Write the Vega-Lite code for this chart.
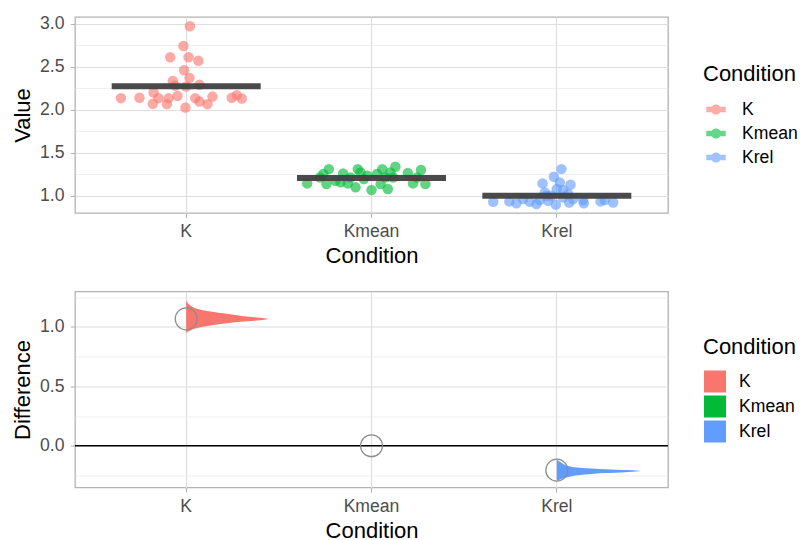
{
  "$schema": "https://vega.github.io/schema/vega-lite/v6.json",
  "padding": {"left": 10, "top": 14, "right": 0, "bottom": 0},
  "config": {
    "font": "Liberation Sans",
    "view": {"stroke": "#b3b3b3", "strokeWidth": 1.3},
    "axis": {
      "labelFont": "Liberation Sans", "labelFontSize": 17.6, "labelColor": "#4d4d4d",
      "titleFont": "Liberation Sans", "titleFontSize": 22, "titleColor": "#000000", "titleFontWeight": "normal",
      "domain": false, "tickColor": "#b3b3b3", "tickSize": 4.5, "tickWidth": 1.1,
      "gridColor": "#dedede", "gridWidth": 1.2
    },
    "axisX": {"labelPadding": 5, "titlePadding": 5.5, "labelBaseline": "top"},
    "axisY": {"labelPadding": 6.5, "titlePadding": 5.5},
    "legend": {
      "titleFont": "Liberation Sans", "titleFontSize": 22, "titleFontWeight": "normal", "titleColor": "#000000",
      "labelFont": "Liberation Sans", "labelFontSize": 17.6, "labelColor": "#000000",
      "padding": 0, "offset": 35,
      "layout": {"right": {"anchor": "middle"}}
    }
  },
  "datasets": {
    "pts": [
      {"cond": "K", "value": 2.97, "jit": 0.02},
      {"cond": "K", "value": 2.74, "jit": -0.015},
      {"cond": "K", "value": 2.61, "jit": -0.086},
      {"cond": "K", "value": 2.61, "jit": 0.013},
      {"cond": "K", "value": 2.57, "jit": 0.066},
      {"cond": "K", "value": 2.46, "jit": -0.011},
      {"cond": "K", "value": 2.37, "jit": 0.018},
      {"cond": "K", "value": 2.335, "jit": -0.072},
      {"cond": "K", "value": 2.29, "jit": 0.072},
      {"cond": "K", "value": 2.27, "jit": 0.0},
      {"cond": "K", "value": 2.28, "jit": -0.06},
      {"cond": "K", "value": 2.2, "jit": -0.176},
      {"cond": "K", "value": 2.135, "jit": -0.352},
      {"cond": "K", "value": 2.14, "jit": -0.252},
      {"cond": "K", "value": 2.135, "jit": -0.149},
      {"cond": "K", "value": 2.16, "jit": -0.047},
      {"cond": "K", "value": 2.135, "jit": 0.049},
      {"cond": "K", "value": 2.153, "jit": 0.142},
      {"cond": "K", "value": 2.14, "jit": 0.246},
      {"cond": "K", "value": 2.17, "jit": 0.273},
      {"cond": "K", "value": 2.13, "jit": 0.3},
      {"cond": "K", "value": 2.07, "jit": -0.18},
      {"cond": "K", "value": 2.065, "jit": -0.104},
      {"cond": "K", "value": 2.135, "jit": -0.095},
      {"cond": "K", "value": 2.095, "jit": 0.072},
      {"cond": "K", "value": 2.065, "jit": 0.115},
      {"cond": "K", "value": 2.025, "jit": -0.004},
      {"cond": "Kmean", "value": 1.144, "jit": -0.347},
      {"cond": "Kmean", "value": 1.253, "jit": -0.26},
      {"cond": "Kmean", "value": 1.31, "jit": -0.23},
      {"cond": "Kmean", "value": 1.136, "jit": -0.243},
      {"cond": "Kmean", "value": 1.26, "jit": -0.153},
      {"cond": "Kmean", "value": 1.156, "jit": -0.167},
      {"cond": "Kmean", "value": 1.144, "jit": -0.128},
      {"cond": "Kmean", "value": 1.098, "jit": -0.086},
      {"cond": "Kmean", "value": 1.31, "jit": -0.074},
      {"cond": "Kmean", "value": 1.27, "jit": -0.059},
      {"cond": "Kmean", "value": 1.233, "jit": -0.023},
      {"cond": "Kmean", "value": 1.067, "jit": 0.0},
      {"cond": "Kmean", "value": 1.253, "jit": 0.03},
      {"cond": "Kmean", "value": 1.31, "jit": 0.058},
      {"cond": "Kmean", "value": 1.136, "jit": 0.049},
      {"cond": "Kmean", "value": 1.078, "jit": 0.088},
      {"cond": "Kmean", "value": 1.27, "jit": 0.102},
      {"cond": "Kmean", "value": 1.337, "jit": 0.129},
      {"cond": "Kmean", "value": 1.213, "jit": 0.117},
      {"cond": "Kmean", "value": 1.265, "jit": 0.196},
      {"cond": "Kmean", "value": 1.144, "jit": 0.224},
      {"cond": "Kmean", "value": 1.3, "jit": 0.267},
      {"cond": "Kmean", "value": 1.136, "jit": 0.291},
      {"cond": "Kmean", "value": 1.213, "jit": 0.246},
      {"cond": "Kmean", "value": 1.213, "jit": -0.113},
      {"cond": "Kmean", "value": 1.175, "jit": -0.194},
      {"cond": "Kmean", "value": 1.213, "jit": -0.278},
      {"cond": "Kmean", "value": 1.194, "jit": -0.041},
      {"cond": "Kmean", "value": 1.213, "jit": 0.075},
      {"cond": "Krel", "value": 1.31, "jit": 0.025},
      {"cond": "Krel", "value": 1.222, "jit": -0.016},
      {"cond": "Krel", "value": 1.144, "jit": -0.077},
      {"cond": "Krel", "value": 1.156, "jit": 0.016},
      {"cond": "Krel", "value": 1.129, "jit": 0.074},
      {"cond": "Krel", "value": 1.078, "jit": 0.0},
      {"cond": "Krel", "value": 1.067, "jit": 0.034},
      {"cond": "Krel", "value": 1.04, "jit": -0.065},
      {"cond": "Krel", "value": 1.021, "jit": 0.061},
      {"cond": "Krel", "value": 0.93, "jit": -0.343},
      {"cond": "Krel", "value": 0.935, "jit": -0.256},
      {"cond": "Krel", "value": 0.912, "jit": -0.218},
      {"cond": "Krel", "value": 0.963, "jit": -0.182},
      {"cond": "Krel", "value": 0.93, "jit": -0.146},
      {"cond": "Krel", "value": 0.905, "jit": -0.11},
      {"cond": "Krel", "value": 0.951, "jit": -0.092},
      {"cond": "Krel", "value": 0.943, "jit": -0.047},
      {"cond": "Krel", "value": 0.897, "jit": -0.005},
      {"cond": "Krel", "value": 1.0, "jit": -0.029},
      {"cond": "Krel", "value": 0.98, "jit": 0.034},
      {"cond": "Krel", "value": 0.923, "jit": 0.067},
      {"cond": "Krel", "value": 0.963, "jit": 0.088},
      {"cond": "Krel", "value": 0.912, "jit": 0.146},
      {"cond": "Krel", "value": 0.951, "jit": 0.142},
      {"cond": "Krel", "value": 0.935, "jit": 0.236},
      {"cond": "Krel", "value": 0.951, "jit": 0.259},
      {"cond": "Krel", "value": 0.923, "jit": 0.304},
      {"cond": "Krel", "value": 1.0, "jit": -0.056}
    ],
    "means": [
      {"cond": "K", "mean": 2.274},
      {"cond": "Kmean", "mean": 1.207},
      {"cond": "Krel", "mean": 1.0}
    ],
    "diffs": [
      {"cond": "K", "diff": 1.067},
      {"cond": "Kmean", "diff": 0.0},
      {"cond": "Krel", "diff": -0.205}
    ],
    "dens": [
      {"cond": "K", "i": 0, "value": 1.222, "w": 0.0},
      {"cond": "K", "i": 1, "value": 1.2, "w": 0.008},
      {"cond": "K", "i": 2, "value": 1.179, "w": 0.022},
      {"cond": "K", "i": 3, "value": 1.163, "w": 0.04},
      {"cond": "K", "i": 4, "value": 1.151, "w": 0.058},
      {"cond": "K", "i": 5, "value": 1.139, "w": 0.09},
      {"cond": "K", "i": 6, "value": 1.129, "w": 0.13},
      {"cond": "K", "i": 7, "value": 1.118, "w": 0.175},
      {"cond": "K", "i": 8, "value": 1.109, "w": 0.22},
      {"cond": "K", "i": 9, "value": 1.099, "w": 0.265},
      {"cond": "K", "i": 10, "value": 1.089, "w": 0.31},
      {"cond": "K", "i": 11, "value": 1.082, "w": 0.355},
      {"cond": "K", "i": 12, "value": 1.076, "w": 0.4},
      {"cond": "K", "i": 13, "value": 1.07, "w": 0.43},
      {"cond": "K", "i": 14, "value": 1.066, "w": 0.445},
      {"cond": "K", "i": 15, "value": 1.061, "w": 0.43},
      {"cond": "K", "i": 16, "value": 1.056, "w": 0.4},
      {"cond": "K", "i": 17, "value": 1.05, "w": 0.355},
      {"cond": "K", "i": 18, "value": 1.045, "w": 0.31},
      {"cond": "K", "i": 19, "value": 1.038, "w": 0.265},
      {"cond": "K", "i": 20, "value": 1.03, "w": 0.22},
      {"cond": "K", "i": 21, "value": 1.021, "w": 0.175},
      {"cond": "K", "i": 22, "value": 1.011, "w": 0.13},
      {"cond": "K", "i": 23, "value": 1.001, "w": 0.09},
      {"cond": "K", "i": 24, "value": 0.99, "w": 0.058},
      {"cond": "K", "i": 25, "value": 0.981, "w": 0.04},
      {"cond": "K", "i": 26, "value": 0.969, "w": 0.022},
      {"cond": "K", "i": 27, "value": 0.958, "w": 0.008},
      {"cond": "K", "i": 28, "value": 0.946, "w": 0.0},
      {"cond": "Krel", "i": 0, "value": -0.118, "w": 0.0},
      {"cond": "Krel", "i": 1, "value": -0.13, "w": 0.012},
      {"cond": "Krel", "i": 2, "value": -0.14, "w": 0.023},
      {"cond": "Krel", "i": 3, "value": -0.153, "w": 0.035},
      {"cond": "Krel", "i": 4, "value": -0.167, "w": 0.05},
      {"cond": "Krel", "i": 5, "value": -0.181, "w": 0.09},
      {"cond": "Krel", "i": 6, "value": -0.188, "w": 0.14},
      {"cond": "Krel", "i": 7, "value": -0.196, "w": 0.23},
      {"cond": "Krel", "i": 8, "value": -0.202, "w": 0.32},
      {"cond": "Krel", "i": 9, "value": -0.207, "w": 0.41},
      {"cond": "Krel", "i": 10, "value": -0.212, "w": 0.455},
      {"cond": "Krel", "i": 11, "value": -0.218, "w": 0.41},
      {"cond": "Krel", "i": 12, "value": -0.226, "w": 0.32},
      {"cond": "Krel", "i": 13, "value": -0.232, "w": 0.23},
      {"cond": "Krel", "i": 14, "value": -0.243, "w": 0.14},
      {"cond": "Krel", "i": 15, "value": -0.25, "w": 0.1},
      {"cond": "Krel", "i": 16, "value": -0.26, "w": 0.068},
      {"cond": "Krel", "i": 17, "value": -0.268, "w": 0.045},
      {"cond": "Krel", "i": 18, "value": -0.275, "w": 0.032},
      {"cond": "Krel", "i": 19, "value": -0.285, "w": 0.015},
      {"cond": "Krel", "i": 20, "value": -0.294, "w": 0.0}
    ]
  },
  "vconcat": [
    {
      "width": 593,
      "height": 196,
      "layer": [
        {
          "data": {"name": "pts"},
          "mark": {"type": "circle", "size": 110, "opacity": 0.62},
          "encoding": {
            "x": {"field": "cond", "type": "nominal",
              "scale": {"type": "band", "paddingInner": 0, "paddingOuter": 0.1, "domain": ["K", "Kmean", "Krel"]},
              "axis": {"title": "Condition", "labelAngle": 0, "grid": true, "bandPosition": 0.5}},
            "xOffset": {"field": "jit", "type": "quantitative", "scale": {"domain": [-0.5, 0.5]}},
            "y": {"field": "value", "type": "quantitative",
              "scale": {"domain": [0.8, 3.078], "nice": false, "zero": false},
              "axis": {"title": "Value", "values": [1, 1.5, 2, 2.5, 3], "format": ".1f", "orient": "left", "grid": true}},
            "color": {"field": "cond", "type": "nominal",
              "scale": {"domain": ["K", "Kmean", "Krel"], "range": ["#F8766D", "#00BA38", "#619CFF"]},
              "legend": {"title": "Condition", "symbolType": "M-1,-0.27H1V0.27H-1Z M0.52,0A0.52,0.52,0,1,1,-0.52,0A0.52,0.52,0,1,1,0.52,0Z", "symbolSize": 380, "symbolOpacity": 0.6, "symbolStrokeWidth": 0, "symbolOffset": 3, "labelOffset": 16, "titlePadding": 13.5, "rowPadding": 5}}
          }
        },
        {
          "data": {"name": "means"},
          "mark": {"type": "tick", "size": 149, "thickness": 6, "color": "#404040", "opacity": 0.95},
          "encoding": {
            "x": {"field": "cond", "type": "nominal",
              "scale": {"type": "band", "paddingInner": 0, "paddingOuter": 0.1, "domain": ["K", "Kmean", "Krel"]},
              "axis": {"title": "Condition", "labelAngle": 0, "grid": true, "bandPosition": 0.5}},
            "y": {"field": "mean", "type": "quantitative",
              "scale": {"domain": [0.8, 3.078], "nice": false, "zero": false},
              "axis": {"title": null, "values": [1.25, 1.75, 2.25, 2.75], "orient": "left", "grid": true, "labels": false, "ticks": false, "gridWidth": 0.6, "gridColor": "#e6e6e6"}}
          }
        }
      ],
      "resolve": {"axis": {"y": "independent"}}
    },
    {
      "width": 593,
      "height": 196,
      "layer": [
        {
          "data": {"values": [{}]},
          "mark": {"type": "rule", "color": "#000000", "strokeWidth": 1.3},
          "encoding": {
            "y": {"datum": 0, "type": "quantitative",
              "scale": {"domain": [-0.351, 1.297], "nice": false, "zero": false}, "axis": null}
          }
        },
        {
          "data": {"name": "dens"},
          "mark": {"type": "line", "filled": true, "strokeWidth": 0, "opacity": 1},
          "encoding": {
            "x": {"field": "cond", "type": "nominal",
              "scale": {"type": "band", "paddingInner": 0, "paddingOuter": 0.1, "domain": ["K", "Kmean", "Krel"]},
              "axis": {"title": "Condition", "labelAngle": 0, "grid": true, "bandPosition": 0.5}},
            "xOffset": {"field": "w", "type": "quantitative", "scale": {"domain": [-0.5, 0.5]}},
            "y": {"field": "value", "type": "quantitative",
              "scale": {"domain": [-0.351, 1.297], "nice": false, "zero": false},
              "axis": {"title": null, "values": [-0.25, 0.25, 0.75, 1.25], "orient": "left", "grid": true, "labels": false, "ticks": false, "gridWidth": 0.6, "gridColor": "#e6e6e6"}},
            "color": {"field": "cond", "type": "nominal",
              "scale": {"domain": ["K", "Kmean", "Krel"], "range": ["#F8766D", "#00BA38", "#619CFF"]},
              "legend": {"title": "Condition", "symbolType": "square", "symbolSize": 484, "symbolStrokeWidth": 0, "symbolOpacity": 1, "symbolOffset": 1, "labelOffset": 13, "titlePadding": 12, "rowPadding": 3}},
            "order": {"field": "i", "type": "quantitative"}
          }
        },
        {
          "data": {"name": "diffs"},
          "mark": {"type": "point", "shape": "circle", "size": 480, "filled": false, "stroke": "#8c8c8c", "strokeWidth": 1.2, "opacity": 1},
          "encoding": {
            "x": {"field": "cond", "type": "nominal",
              "scale": {"type": "band", "paddingInner": 0, "paddingOuter": 0.1, "domain": ["K", "Kmean", "Krel"]},
              "axis": {"title": "Condition", "labelAngle": 0, "grid": true, "bandPosition": 0.5}},
            "y": {"field": "diff", "type": "quantitative",
              "scale": {"domain": [-0.351, 1.297], "nice": false, "zero": false},
              "axis": {"title": "Difference", "values": [0, 0.5, 1], "format": ".1f", "orient": "left", "grid": true}}
          }
        }
      ],
      "resolve": {"axis": {"y": "independent"}}
    }
  ],
  "spacing": 22.5,
  "resolve": {
    "scale": {"x": "independent", "y": "independent", "color": "independent", "xOffset": "independent"},
    "legend": {"color": "independent"}
  }
}
